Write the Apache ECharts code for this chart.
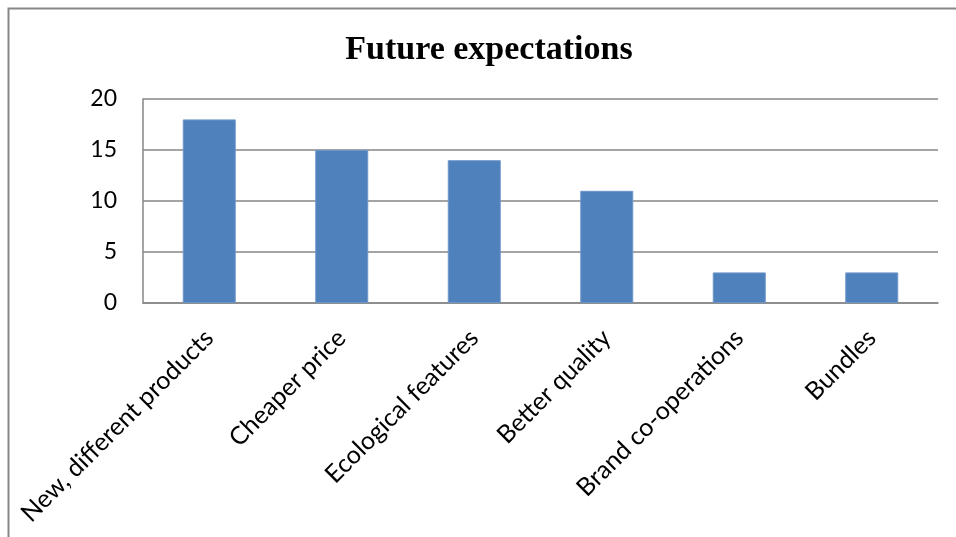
<!DOCTYPE html>
<html>
<head>
<meta charset="utf-8">
<script src="https://cdn.jsdelivr.net/npm/echarts@6/dist/echarts.min.js"></script>
<style>
  html, body { margin: 0; padding: 0; background: #fff; }
  #chart { width: 956px; height: 537px; }
</style>
</head>
<body>
<div id="chart"></div>
<script>
// Survey answers: what respondents expect in the future
const categories = [
  'New, different products',
  'Cheaper price',
  'Ecological features',
  'Better quality',
  'Brand co-operations',
  'Bundles'
];
const counts = [18, 15, 14, 11, 3, 3];
const yTicks = [0, 5, 10, 15, 20];

const labelFont = 'Lato, "Open Sans", sans-serif';

const chart = echarts.init(document.getElementById('chart'), null, { renderer: 'canvas' });

chart.setOption({
  backgroundColor: '#ffffff',
  animation: false,
  title: {
    text: 'Future expectations',
    left: 484,
    textAlign: 'center',
    top: 28,
    textStyle: {
      fontFamily: '"Liberation Serif", "DejaVu Serif", serif',
      fontWeight: 'bold',
      fontSize: 34,
      color: '#000'
    }
  },
  graphic: [{
    type: 'rect',
    shape: { x: 8.5, y: 8.5, width: 1000, height: 600 },
    style: { fill: 'none', stroke: '#878787', lineWidth: 2 },
    silent: true,
    z: -1
  }],
  grid: { left: 143, top: 99, right: 18, bottom: 234, containLabel: false },
  xAxis: {
    type: 'category',
    data: categories,
    axisLine: { show: true, lineStyle: { color: '#868686', width: 1.5 } },
    axisTick: { show: false },
    axisLabel: {
      interval: 0,
      rotate: 45,
      margin: 31,
      fontSize: 25,
      fontFamily: labelFont,
      color: '#000'
    }
  },
  yAxis: {
    type: 'value',
    min: yTicks[0],
    max: yTicks[yTicks.length - 1],
    interval: 5,
    axisLine: { show: true, lineStyle: { color: '#868686', width: 1.5 } },
    axisTick: { show: false },
    splitLine: { show: true, lineStyle: { color: '#868686', width: 1.5 } },
    axisLabel: {
      margin: 26,
      fontSize: 23,
      fontFamily: labelFont,
      color: '#000'
    }
  },
  series: [{
    type: 'bar',
    data: counts,
    barWidth: '40%',
    itemStyle: { color: '#4F81BD', borderColor: '#6d96c9', borderWidth: 1 }
  }]
});
</script>
</body>
</html>
